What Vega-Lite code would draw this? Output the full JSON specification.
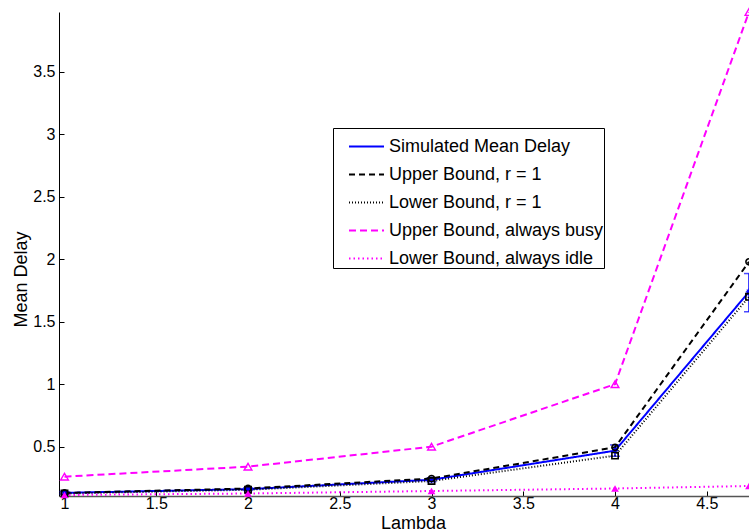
{
  "$schema": "https://vega.github.io/schema/vega-lite/v6.json",
  "width": 690,
  "height": 484,
  "autosize": {"type": "none"},
  "padding": {"left": 59, "top": 12, "right": 0, "bottom": 35},
  "background": "white",
  "config": {
    "view": {"stroke": null},
    "font": "Liberation Sans",
    "axis": {
      "labelFont": "Liberation Sans",
      "titleFont": "Liberation Sans",
      "labelFontSize": 16,
      "titleFontSize": 18,
      "titleFontWeight": "normal",
      "labelColor": "black",
      "titleColor": "black",
      "grid": false,
      "tickColor": "black",
      "tickWidth": 1
    },
    "legend": {"labelFont": "Liberation Sans"}
  },
  "datasets": {
    "lines": [
      {"series": "Simulated Mean Delay", "lambda": 1, "delay": 0.13},
      {"series": "Simulated Mean Delay", "lambda": 2, "delay": 0.16},
      {"series": "Simulated Mean Delay", "lambda": 3, "delay": 0.235},
      {"series": "Simulated Mean Delay", "lambda": 4, "delay": 0.468},
      {"series": "Simulated Mean Delay", "lambda": 4.73, "delay": 1.74},
      {"series": "Upper Bound, r = 1", "lambda": 1, "delay": 0.13},
      {"series": "Upper Bound, r = 1", "lambda": 2, "delay": 0.165},
      {"series": "Upper Bound, r = 1", "lambda": 3, "delay": 0.245},
      {"series": "Upper Bound, r = 1", "lambda": 4, "delay": 0.495},
      {"series": "Upper Bound, r = 1", "lambda": 4.73, "delay": 1.98},
      {"series": "Lower Bound, r = 1", "lambda": 1, "delay": 0.125},
      {"series": "Lower Bound, r = 1", "lambda": 2, "delay": 0.155},
      {"series": "Lower Bound, r = 1", "lambda": 3, "delay": 0.225},
      {"series": "Lower Bound, r = 1", "lambda": 4, "delay": 0.428},
      {"series": "Lower Bound, r = 1", "lambda": 4.73, "delay": 1.7},
      {"series": "Upper Bound, always busy", "lambda": 1, "delay": 0.26},
      {"series": "Upper Bound, always busy", "lambda": 2, "delay": 0.34},
      {"series": "Upper Bound, always busy", "lambda": 3, "delay": 0.5},
      {"series": "Upper Bound, always busy", "lambda": 4, "delay": 1.0},
      {"series": "Upper Bound, always busy", "lambda": 4.73, "delay": 3.98},
      {"series": "Lower Bound, always idle", "lambda": 1, "delay": 0.113},
      {"series": "Lower Bound, always idle", "lambda": 2, "delay": 0.125},
      {"series": "Lower Bound, always idle", "lambda": 3, "delay": 0.145},
      {"series": "Lower Bound, always idle", "lambda": 4, "delay": 0.165},
      {"series": "Lower Bound, always idle", "lambda": 4.73, "delay": 0.185}
    ],
    "sim": [
      {"lambda": 1, "lo": 0.12, "hi": 0.14},
      {"lambda": 2, "lo": 0.15, "hi": 0.17},
      {"lambda": 3, "lo": 0.22, "hi": 0.25},
      {"lambda": 4, "lo": 0.423, "hi": 0.514},
      {"lambda": 4.73, "lo": 1.58, "hi": 1.886}
    ]
  },
  "encoding": {
    "x": {
      "field": "lambda",
      "type": "quantitative",
      "scale": {"domain": [0.97, 4.73], "nice": false, "zero": false},
      "axis": {
        "values": [1, 1.5, 2, 2.5, 3, 3.5, 4, 4.5],
        "format": "~g",
        "title": "Lambda",
        "tickSize": -5,
        "labelPadding": 4,
        "domainColor": "#555",
        "domainWidth": 1.5,
        "titleX": 354,
        "titleY": 32,
        "titleAlign": "center",
        "titleBaseline": "alphabetic"
      }
    },
    "y": {
      "field": "delay",
      "type": "quantitative",
      "scale": {"domain": [0.105, 3.98], "nice": false, "zero": false},
      "axis": {
        "values": [0.5, 1, 1.5, 2, 2.5, 3, 3.5],
        "format": "~g",
        "title": "Mean Delay",
        "tickSize": -5,
        "labelPadding": 9,
        "domainColor": "black",
        "domainWidth": 1,
        "titleX": -32.5,
        "titleY": 267,
        "titleAngle": -90,
        "titleAlign": "center",
        "titleBaseline": "alphabetic"
      }
    }
  },
  "layer": [
    {
      "data": {"name": "sim"},
      "mark": {"type": "rule", "color": "#0000FF", "strokeWidth": 1.5},
      "encoding": {
        "y": {"field": "lo", "type": "quantitative"},
        "y2": {"field": "hi"}
      }
    },
    {
      "data": {"name": "sim"},
      "mark": {"type": "tick", "orient": "horizontal", "color": "#0000FF", "size": 10, "thickness": 1.5},
      "encoding": {"y": {"field": "lo", "type": "quantitative"}}
    },
    {
      "data": {"name": "sim"},
      "mark": {"type": "tick", "orient": "horizontal", "color": "#0000FF", "size": 10, "thickness": 1.5},
      "encoding": {"y": {"field": "hi", "type": "quantitative"}}
    },
    {
      "data": {"name": "lines"},
      "mark": {"type": "line", "clip": true},
      "encoding": {
        "color": {
          "field": "series",
          "type": "nominal",
          "sort": null,
          "scale": {
            "domain": ["Simulated Mean Delay", "Upper Bound, r = 1", "Lower Bound, r = 1", "Upper Bound, always busy", "Lower Bound, always idle"],
            "range": ["#0000FF", "#000000", "#000000", "#FF00FF", "#FF00FF"]
          },
          "legend": {
            "title": null,
            "orient": "none",
            "legendX": 274,
            "legendY": 116,
            "strokeColor": "black",
            "fillColor": "white",
            "padding": 0,
            "cornerRadius": 0,
            "symbolType": "stroke",
            "symbolSize": 1225,
            "symbolStrokeWidth": 1.8,
            "symbolOffset": 15,
            "rowPadding": -24.2,
            "labelOffset": 4,
            "labelFontSize": 18,
            "labelColor": "black",
            "labelLimit": 400
          }
        },
        "strokeDash": {
          "field": "series",
          "type": "nominal",
          "sort": null,
          "scale": {
            "domain": ["Simulated Mean Delay", "Upper Bound, r = 1", "Lower Bound, r = 1", "Upper Bound, always busy", "Lower Bound, always idle"],
            "range": [[1, 0], [6, 4], [1, 2], [7, 4], [1.5, 3]]
          },
          "legend": null
        },
        "strokeWidth": {
          "field": "series",
          "type": "nominal",
          "sort": null,
          "scale": {
            "domain": ["Simulated Mean Delay", "Upper Bound, r = 1", "Lower Bound, r = 1", "Upper Bound, always busy", "Lower Bound, always idle"],
            "range": [2, 2, 1, 1.6, 1.6]
          },
          "legend": null
        },
        "order": {"field": "lambda", "type": "quantitative"}
      }
    },
    {
      "data": {"name": "lines"},
      "transform": [{"filter": "datum.series === 'Simulated Mean Delay'"}],
      "mark": {"type": "point", "filled": false, "strokeWidth": 1.2, "opacity": 1, "size": 40, "shape": "M-1,0H1M0,-1V1M-0.7,-0.7L0.7,0.7M-0.7,0.7L0.7,-0.7"},
      "encoding": {"color": {"field": "series", "type": "nominal", "legend": null}}
    },
    {
      "data": {"name": "lines"},
      "transform": [{"filter": "datum.series === 'Upper Bound, r = 1'"}],
      "mark": {"type": "point", "filled": false, "strokeWidth": 1.6, "opacity": 1, "size": 38, "shape": "circle"},
      "encoding": {"color": {"field": "series", "type": "nominal", "legend": null}}
    },
    {
      "data": {"name": "lines"},
      "transform": [{"filter": "datum.series === 'Lower Bound, r = 1'"}],
      "mark": {"type": "point", "filled": false, "strokeWidth": 1.6, "opacity": 1, "size": 40, "shape": "square"},
      "encoding": {"color": {"field": "series", "type": "nominal", "legend": null}}
    },
    {
      "data": {"name": "lines"},
      "transform": [{"filter": "datum.series === 'Upper Bound, always busy'"}],
      "mark": {"type": "point", "filled": false, "strokeWidth": 1.4, "opacity": 1, "size": 60, "shape": "triangle-up"},
      "encoding": {"color": {"field": "series", "type": "nominal", "legend": null}}
    },
    {
      "data": {"name": "lines"},
      "transform": [{"filter": "datum.series === 'Lower Bound, always idle'"}],
      "mark": {"type": "point", "filled": true, "opacity": 1, "size": 60, "shape": "triangle-up"},
      "encoding": {"color": {"field": "series", "type": "nominal", "legend": null}}
    }
  ]
}
